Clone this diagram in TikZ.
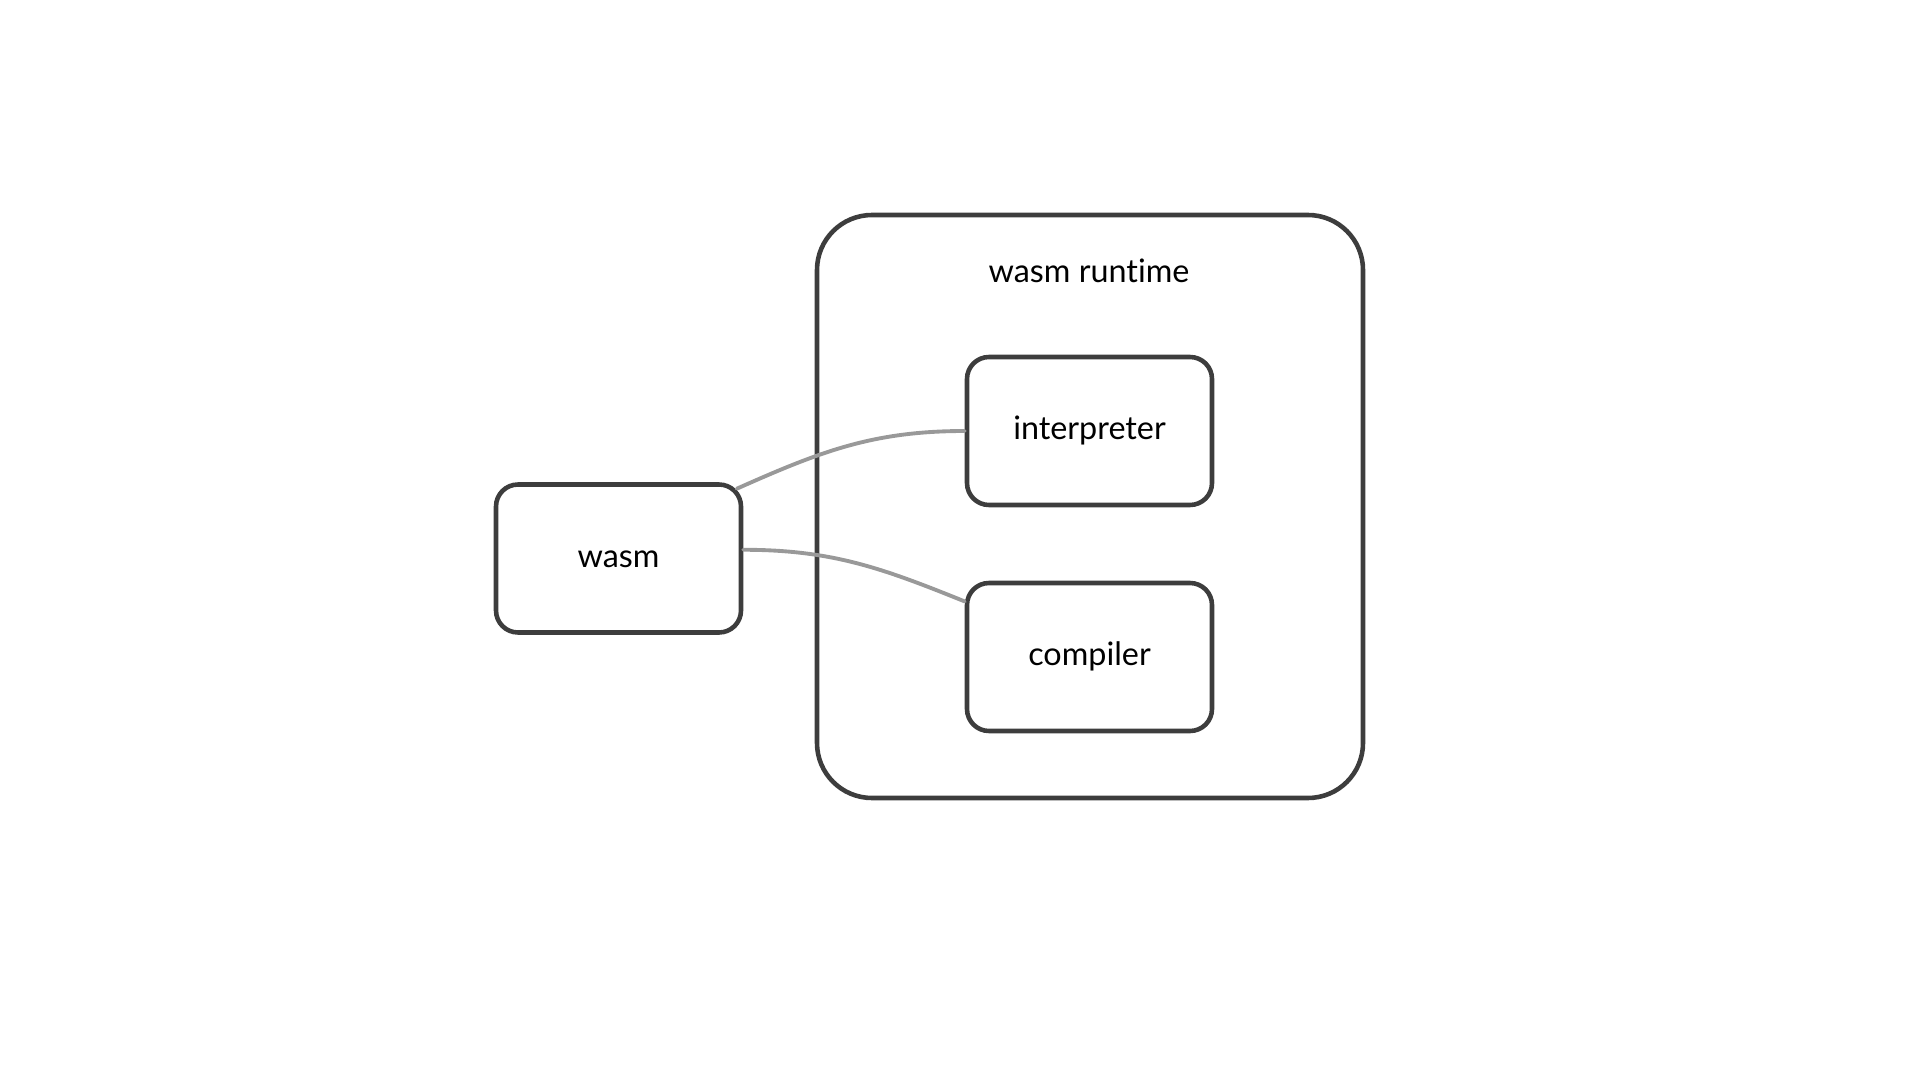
\documentclass[tikz,border=0pt]{standalone}
\usepackage{fontspec}
\setmainfont[Ligatures=NoCommon]{Lato}
\usetikzlibrary{positioning}
\definecolor{boxgray}{HTML}{3D3D3D}
\definecolor{linkgray}{HTML}{999999}
\tikzset{
  box/.style={draw=boxgray, line width=1.3pt, rounded corners=0.22cm,
    minimum width=2.45cm, minimum height=1.48cm, inner sep=0pt,
    text height=1ex, text depth=0pt,
    font=\fontsize{9.2}{11}\selectfont},
  link/.style={draw=linkgray, line width=1.1pt, line cap=round}
}
\begin{document}
\begin{tikzpicture}

% ---------------- canvas ----------------
\useasboundingbox (0,0) rectangle (19.2,-10.8);

% ---------------- runtime frame ----------------
\node[box, rounded corners=0.55cm, minimum width=5.46cm, minimum height=5.83cm]
  (runtime) at (10.9,-5.065) {};
\node[font=\fontsize{9.2}{11}\selectfont] (runtimeLabel) at (10.89,-2.71) {wasm runtime};

% ---------------- inner boxes ----------------
\node[box] (interp) at (10.895,-4.31) {interpreter};
\node[box] (compiler) at (10.895,-6.57) {compiler};

% ---------------- module ----------------
\node[box] (wasm) at (6.185,-5.585) {wasm};

% ---------------- connectors ----------------
\draw[link] ([xshift=-0.065cm,yshift=-0.065cm]wasm.north east) to[out=24,in=180] (interp.west);
\draw[link] (wasm.4) to[out=0,in=158] (compiler.156);

\end{tikzpicture}
\end{document}
